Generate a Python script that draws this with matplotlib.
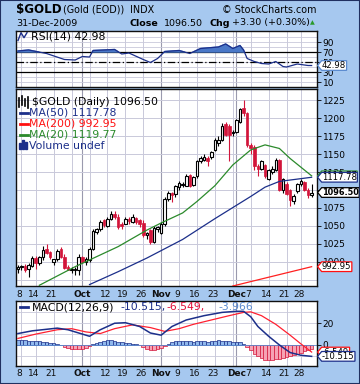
import numpy as np
import pandas as pd
import matplotlib
matplotlib.use("Agg")
import matplotlib.pyplot as plt
from matplotlib.patches import Rectangle
from matplotlib.path import Path
from matplotlib.transforms import blended_transform_factory

# trading days on the chart (Labor Day and Christmas missing)
days = pd.bdate_range("2009-09-01", "2009-12-31")
days = days[(days != "2009-09-07") & (days != "2009-12-25")]
days = list(days)

# daily candles from 4-Sep to 31-Dec, one row per month
candle_start = "2009-09-04"
opens = [990, 992, 994, 990, 994, 1005, 998, 1006, 1017, 1013, 1000, 1004, 1017, 1007, 993, 988, 988, 989,
         1007, 1000, 1002, 1017, 1042, 1045, 1058, 1050, 1060, 1067, 1063,
         1052, 1053, 1060, 1056, 1061, 1058, 1054, 1037, 1044, 1028, 1045,
         1040, 1052, 1088, 1096, 1094, 1104, 1107, 1106, 1121, 1107, 1119, 1140, 1142, 1145, 1146,
         1156, 1166, 1170, 1192, 1190, 1179,
         1181, 1195, 1214, 1207, 1163, 1160, 1133, 1130, 1135, 1116, 1125, 1128, 1142, 1100, 1109,
         1100, 1084, 1098, 1108, 1111, 1100, 1093]
highs = [996, 996, 997, 998, 1008, 1008, 1008, 1022, 1024, 1015, 1004, 1017, 1020, 1010, 995, 993, 992, 1011,
         1008, 1006, 1020, 1045, 1047, 1058, 1060, 1062, 1070, 1070, 1066,
         1055, 1063, 1062, 1066, 1063, 1060, 1058, 1042, 1045, 1050, 1050,
         1056, 1090, 1098, 1097, 1107, 1112, 1111, 1122, 1123, 1120, 1142, 1148, 1150, 1147, 1155,
         1172, 1175, 1193, 1195, 1192, 1184,
         1199, 1215, 1226, 1209, 1166, 1163, 1136, 1142, 1137, 1130, 1133, 1144, 1143, 1117, 1111,
         1102, 1094, 1110, 1116, 1113, 1103, 1109]
lows = [984, 988, 985, 978, 993, 990, 996, 1002, 1010, 1004, 995, 1001, 1005, 990, 988, 984, 982, 982,
        998, 996, 1000, 1016, 1038, 1043, 1048, 1048, 1058, 1060, 1046,
        1045, 1052, 1053, 1054, 1053, 1048, 1034, 1031, 1025, 1026, 1042,
        1039, 1050, 1085, 1083, 1090, 1100, 1104, 1105, 1104, 1105, 1117, 1138, 1140, 1133, 1143,
        1154, 1162, 1168, 1175, 1140, 1176,
        1179, 1193, 1204, 1160, 1150, 1128, 1119, 1128, 1117, 1114, 1122, 1126, 1098, 1096, 1093,
        1077, 1080, 1096, 1106, 1098, 1089, 1090]
closes = [993, 994, 989, 996, 1005, 998, 1006, 1016, 1012, 1006, 1004, 1015, 1007, 991, 989, 990, 990, 1007,
          999, 1003, 1017, 1043, 1045, 1056, 1051, 1059, 1066, 1063, 1049,
          1050, 1060, 1057, 1062, 1056, 1052, 1037, 1040, 1028, 1047, 1048,
          1053, 1088, 1096, 1093, 1105, 1110, 1109, 1120, 1106, 1118, 1140, 1145, 1146, 1140, 1153,
          1170, 1170, 1190, 1177, 1177, 1181,
          1198, 1213, 1207, 1163, 1158, 1133, 1130, 1140, 1119, 1128, 1130, 1142, 1100, 1116, 1095,
          1086, 1092, 1109, 1112, 1100, 1093.2, 1096.5]

# moving averages read at a few dates
ma20_days = ["2009-09-15", "2009-09-29", "2009-10-15", "2009-10-27", "2009-11-02", "2009-11-10",
             "2009-11-16", "2009-11-23", "2009-11-30", "2009-12-07", "2009-12-11", "2009-12-17",
             "2009-12-22", "2009-12-31"]
ma20 = [967, 993, 1021, 1044, 1054, 1068, 1084, 1106, 1135, 1156, 1163, 1158, 1144, 1119.77]
ma50_days = ["2009-10-05", "2009-10-15", "2009-10-27", "2009-11-10", "2009-11-23", "2009-12-07",
             "2009-12-11", "2009-12-17", "2009-12-31"]
ma50 = [968, 986, 1005, 1031, 1060, 1091, 1104, 1112, 1117.78]
ma200_days = ["2009-11-30", "2009-12-31"]
ma200 = [966, 992.95]

# RSI(14)
rsi_days = ["2009-09-04", "2009-09-10", "2009-09-17", "2009-09-24", "2009-09-29", "2009-10-01",
            "2009-10-05", "2009-10-06", "2009-10-14", "2009-10-16", "2009-10-20", "2009-10-26",
            "2009-10-28", "2009-10-30", "2009-11-03", "2009-11-09", "2009-11-12", "2009-11-17",
            "2009-11-24", "2009-11-26", "2009-11-30", "2009-12-02", "2009-12-03", "2009-12-04",
            "2009-12-08", "2009-12-10", "2009-12-14", "2009-12-16", "2009-12-18", "2009-12-21",
            "2009-12-24", "2009-12-30", "2009-12-31"]
rsi = [72, 74, 67, 55, 54, 61, 60, 73, 75, 66, 68, 55, 49, 57, 71, 73, 67, 77,
       80, 86, 77, 83, 74, 57, 51, 47, 46, 51, 41, 40, 46, 43, 42.98]

# MACD(12,26,9)
macd_days = ["2009-09-04", "2009-09-11", "2009-09-22", "2009-09-25", "2009-10-01", "2009-10-05",
             "2009-10-08", "2009-10-14", "2009-10-19", "2009-10-23", "2009-10-28", "2009-11-02",
             "2009-11-05", "2009-11-11", "2009-11-18", "2009-11-25", "2009-12-01", "2009-12-03",
             "2009-12-07", "2009-12-09", "2009-12-14", "2009-12-17", "2009-12-22", "2009-12-28",
             "2009-12-31"]
macd = [10.5, 13, 15.5, 14, 10, 8, 14, 20, 20.5, 17, 11, 9, 17, 23, 27, 30, 31, 31,
        26, 17, 8, 0, -7, -9.5, -10.515]
signal_days = ["2009-09-04", "2009-09-14", "2009-09-22", "2009-09-28", "2009-10-02", "2009-10-08",
               "2009-10-14", "2009-10-21", "2009-10-28", "2009-11-03", "2009-11-09", "2009-11-13",
               "2009-11-20", "2009-11-27", "2009-12-03", "2009-12-07", "2009-12-10", "2009-12-16",
               "2009-12-22", "2009-12-28", "2009-12-31"]
signal = [6, 10, 14, 15, 12, 10.5, 15, 18.5, 16, 12.5, 15, 19, 23, 27, 30, 30.5, 27, 19, 9, 1, -6.549]
hist = [4.5, 4.5, 4.3, 4, 3.8, 3.5, 3.2, 3, 2.5, 2, 1.5, 1, 0.3,
        -1.5, -2.5, -3.5, -4, -4, -3.5, -2.5, -1, 0.5, 1.5, 2.5,
        3.5, 4.5, 4.5, 4, 3, 2.5, 2, 1.5, 1, 0.5, -0.5,
        -2, -3.5, -4.5, -4.5, -4, -3, -1, 1, 2.5, 3.5, 4, 4, 3.5, 3.5, 3,
        3.5, 4, 3.5, 3, 3.5, 4, 4.5, 4, 3.5, 3.5, 3, 3, 2.5, 1,
        -2, -5, -8, -10.5, -12, -13.5, -14, -13.5, -13, -12.5, -12, -11, -10, -9, -8, -7, -6, -5, -3.966]

week_lines = ["2009-09-08", "2009-09-14", "2009-09-21", "2009-09-28", "2009-10-05", "2009-10-12",
              "2009-10-19", "2009-10-26", "2009-11-09", "2009-11-16", "2009-11-23", "2009-11-30",
              "2009-12-07", "2009-12-14", "2009-12-21", "2009-12-28"]
month_lines = ["2009-10-01", "2009-11-02", "2009-12-01"]
xlabels = [("2009-09-08", "8"), ("2009-09-14", "14"), ("2009-09-21", "21"), ("2009-10-01", "Oct"),
           ("2009-10-12", "12"), ("2009-10-19", "19"), ("2009-10-26", "26"), ("2009-11-02", "Nov"),
           ("2009-11-09", "9"), ("2009-11-16", "16"), ("2009-11-23", "23"), ("2009-12-01", "Dec"),
           ("2009-12-07", "7"), ("2009-12-14", "14"), ("2009-12-21", "21"), ("2009-12-28", "28")]

pos = {d: k for k, d in enumerate(days)}


def xs(dlist):
    return [pos[pd.Timestamp(d)] for d in dlist]


BG = "#a6c8ef"
RED = "#d2143a"
NAVY = "#1c2f8a"
GREEN = "#2b8a2b"
GRID = "#c9c9da"
MGRID = "#9a9aae"
plt.rcParams["font.family"] = "DejaVu Sans"

fig = plt.figure(figsize=(3.6, 3.84), dpi=100)
fig.patch.set_facecolor(BG)
fig.patches.append(Rectangle((0, 0), 1, 1, transform=fig.transFigure, fill=False,
                             ec="#203060", lw=1.5))


def panel(left, top, right, bottom):
    ax = fig.add_axes([left / 360, 1 - bottom / 384, (right - left) / 360, (bottom - top) / 384])
    ax.set_facecolor("white")
    ax.set_xlim(2.48, 86.5)
    ax.set_xticks([])
    ax.yaxis.tick_right()
    ax.tick_params(axis="y", length=3, width=0.6, pad=1, labelsize=6.5, colors="black")
    for s in ax.spines.values():
        s.set_linewidth(1)
        s.set_color("#101010")
    for d in week_lines:
        ax.axvline(pos[pd.Timestamp(d)], color=GRID, lw=0.7, zorder=0)
    for d in month_lines:
        ax.axvline(pos[pd.Timestamp(d)], color=MGRID, lw=0.8, zorder=0)
    return ax


def tag_box(x0, y0, width, height, mutation_size):
    # white label with a pointed left side
    pad = mutation_size * 0.04
    x0, y0 = x0 - pad, y0 - pad
    x1, y1 = x0 + width + 2 * pad, y0 + height + 2 * pad
    tip = (y1 - y0) * 0.42
    verts = [(x0, y0), (x1, y0), (x1, y1), (x0, y1), (x0 - tip, (y0 + y1) / 2), (x0, y0)]
    return Path(verts, [Path.MOVETO] + [Path.LINETO] * 4 + [Path.CLOSEPOLY])


def value_tag(ax, y, txt, ec, bold=False):
    tr = blended_transform_factory(ax.transAxes, ax.transData)
    ax.annotate(txt, xy=(1, y), xycoords=tr, xytext=(3.6, 0), textcoords="offset points",
                va="center", ha="left", fontsize=5.9 if bold else 6.1, color="black",
                fontweight="bold" if bold else "normal", annotation_clip=False, zorder=10,
                bbox=dict(boxstyle=tag_box, fc="white", ec=ec, lw=0.9))


def date_labels(ax, y):
    tr = blended_transform_factory(ax.transData, ax.transAxes)
    for d, t in xlabels:
        bold = not t.isdigit()
        x = pos[pd.Timestamp(d)] - (0 if bold else 0.6)
        ax.text(x, y, t, transform=tr, ha="center", va="top", fontsize=6.5,
                fontweight="bold" if bold else "normal", color="#101010")


def fx(px, ax):
    # figure pixel column -> axes fraction
    return (px - 16) / 301


# ---- RSI panel
ax1 = panel(16, 31, 317, 87)
ax1.set_ylim(0, 112)
ax1.set_yticks([10, 30, 50, 70, 90])
for v in range(10, 110, 10):
    ax1.axhline(v, color=GRID, lw=0.6, zorder=0)
ax1.axhline(70, color="black", lw=0.9)
ax1.axhline(30, color="black", lw=0.9)
ax1.axhline(50, color="black", lw=0.9, ls=(0, (6, 2, 1, 2)))
rx = xs(rsi_days)
ax1.plot(rx, rsi, color=NAVY, lw=0.9, zorder=4)
ax1.fill_between(rx, rsi, 70, where=np.array(rsi) > 70, interpolate=True, color="#4a78c8", zorder=3)
ax1.text(fx(31, ax1), 0.91, "RSI(14) 42.98", transform=ax1.transAxes, fontsize=7.8, va="center", ha="left")
ax1.plot([fx(18, ax1), fx(21, ax1), fx(24, ax1), fx(27, ax1)], [0.83, 0.97, 0.88, 0.97],
         transform=ax1.transAxes, color=NAVY, lw=1)
value_tag(ax1, rsi[-1], "42.98", "#5a8ad0")

# ---- price panel
ax2 = panel(16, 89, 317, 286)
ax2.set_ylim(966, 1241)
ax2.set_yticks(np.arange(1000, 1226, 25))
for v in np.arange(975, 1250, 25):
    ax2.axhline(v, color=GRID, lw=0.7, zorder=0)

cx = np.arange(pos[pd.Timestamp(candle_start)], pos[pd.Timestamp(candle_start)] + len(closes))
o = np.array(opens, float)
h = np.array(highs, float)
l = np.array(lows, float)
c = np.array(closes, float)
up = c >= o
ax2.vlines(cx[up], l[up], h[up], color="black", lw=0.8, zorder=2)
ax2.vlines(cx[~up], l[~up], h[~up], color=RED, lw=0.8, zorder=2)
ax2.bar(cx[up], (c - o)[up], bottom=o[up], width=0.72, facecolor="white", edgecolor="black",
        lw=0.8, zorder=3)
ax2.bar(cx[~up], (o - c)[~up], bottom=c[~up], width=0.72, facecolor=RED, edgecolor=RED,
        lw=0.5, zorder=3)

ax2.plot(xs(ma20_days), ma20, color=GREEN, lw=0.9, zorder=4)
ax2.plot(xs(ma50_days), ma50, color=NAVY, lw=0.9, zorder=4)
ax2.plot(xs(ma200_days), ma200, color="#ff2020", lw=0.9, zorder=4)

leg = [("$GOLD (Daily) 1096.50", "black", None),
       ("MA(50) 1117.78", NAVY, NAVY),
       ("MA(200) 992.95", "#ff1010", "#ff1010"),
       ("MA(20) 1119.77", GREEN, GREEN),
       ("Volume undef", NAVY, None)]
for k, (t, col, lc) in enumerate(leg):
    yy = 0.936 - k * 0.056
    x0 = 31.5 if k == 0 else 29.3
    ax2.text(fx(x0, ax2), yy, t, transform=ax2.transAxes, fontsize=7.8, color=col, va="center", ha="left")
    if lc:
        ax2.plot([fx(19.5, ax2), fx(28, ax2)], [yy, yy], transform=ax2.transAxes, color=lc, lw=2)
# small candle icon and volume icon
tr2 = ax2.transAxes
for xp, y0, y1 in [(19, 0.91, 0.955), (22, 0.92, 0.965), (25, 0.915, 0.95), (28, 0.905, 0.96)]:
    ax2.plot([fx(xp, ax2)] * 2, [y0, y1], transform=tr2, color="black", lw=1.2)
for xp, hgt in [(20, 0.03), (23, 0.045), (26, 0.035)]:
    ax2.add_patch(Rectangle((fx(xp - 1, ax2), 0.695), 2 / 301, hgt, transform=tr2, color=NAVY))

value_tag(ax2, 1119.77, "1119.77", GREEN)
value_tag(ax2, 1117.78, "1117.78", NAVY)
value_tag(ax2, 1096.5, "1096.50", "black", bold=True)
value_tag(ax2, 992.95, "992.95", "#ff1010")
date_labels(ax2, -0.02)

# ---- MACD panel
ax3 = panel(16, 301, 317, 366)
ax3.set_ylim(-19.4, 40.5)
ax3.set_yticks([0, 20])
for v in [-10, 10, 20, 30]:
    ax3.axhline(v, color=GRID, lw=0.6, zorder=0)
hx = np.arange(pos[pd.Timestamp(candle_start)], pos[pd.Timestamp(candle_start)] + len(hist))
hv = np.array(hist)
ax3.bar(hx[hv >= 0], hv[hv >= 0], width=1.0, facecolor="#8fb8ec", edgecolor=NAVY, lw=0.5, zorder=2)
ax3.bar(hx[hv < 0], hv[hv < 0], width=1.0, facecolor="#f6a2b4", edgecolor=RED, lw=0.5, zorder=2)
ax3.axhline(0, color="#5a8ad0", lw=0.6, zorder=2)
ax3.plot(xs(signal_days), signal, color="#ff2030", lw=0.9, zorder=4)
ax3.plot(xs(macd_days), macd, color=NAVY, lw=1.1, zorder=5)
ax3.plot([fx(19.5, ax3), fx(28, ax3)], [0.903, 0.903], transform=ax3.transAxes, color=NAVY, lw=2)
for px, t, col in [(31.5, "MACD(12,26,9)", "black"), (120, "-10.515,", NAVY),
                   (166.5, "-6.549,", "#e0103a"), (218, "-3.966", "#5a8ad0")]:
    ax3.text(fx(px, ax3), 0.903, t, transform=ax3.transAxes, fontsize=7.8, va="center", color=col)
value_tag(ax3, -6.549, "-6.549", "#ff1010")
value_tag(ax3, -10.515, "-10.515", NAVY)
date_labels(ax3, -0.05)

# ---- header
fig.text(16 / 360, 1 - 10 / 384, "$GOLD", fontsize=8.6, fontweight="bold", va="center")
fig.text(63 / 360, 1 - 10 / 384, "(Gold (EOD))", fontsize=6.9, va="center")
fig.text(130 / 360, 1 - 10 / 384, "INDX", fontsize=6.9, va="center")
fig.text(316 / 360, 1 - 10 / 384, "\u00a9 StockCharts.com", fontsize=6.9, va="center", ha="right")
fig.text(16 / 360, 1 - 23 / 384, "31-Dec-2009", fontsize=6.8, va="center")
fig.text(129 / 360, 1 - 23 / 384, "Close", fontsize=6.8, fontweight="bold", va="center")
fig.text(164 / 360, 1 - 23 / 384, "1096.50", fontsize=6.8, va="center")
fig.text(209 / 360, 1 - 23 / 384, "Chg", fontsize=6.8, fontweight="bold", va="center")
fig.text(232 / 360, 1 - 23 / 384, "+3.30 (+0.30%)", fontsize=6.8, va="center")
fig.text(312 / 360, 1 - 23 / 384, "\u25b2", fontsize=4.5, va="center", ha="center", color="#2a9a2a")

fig.savefig("out.png", dpi=100, facecolor=BG)
